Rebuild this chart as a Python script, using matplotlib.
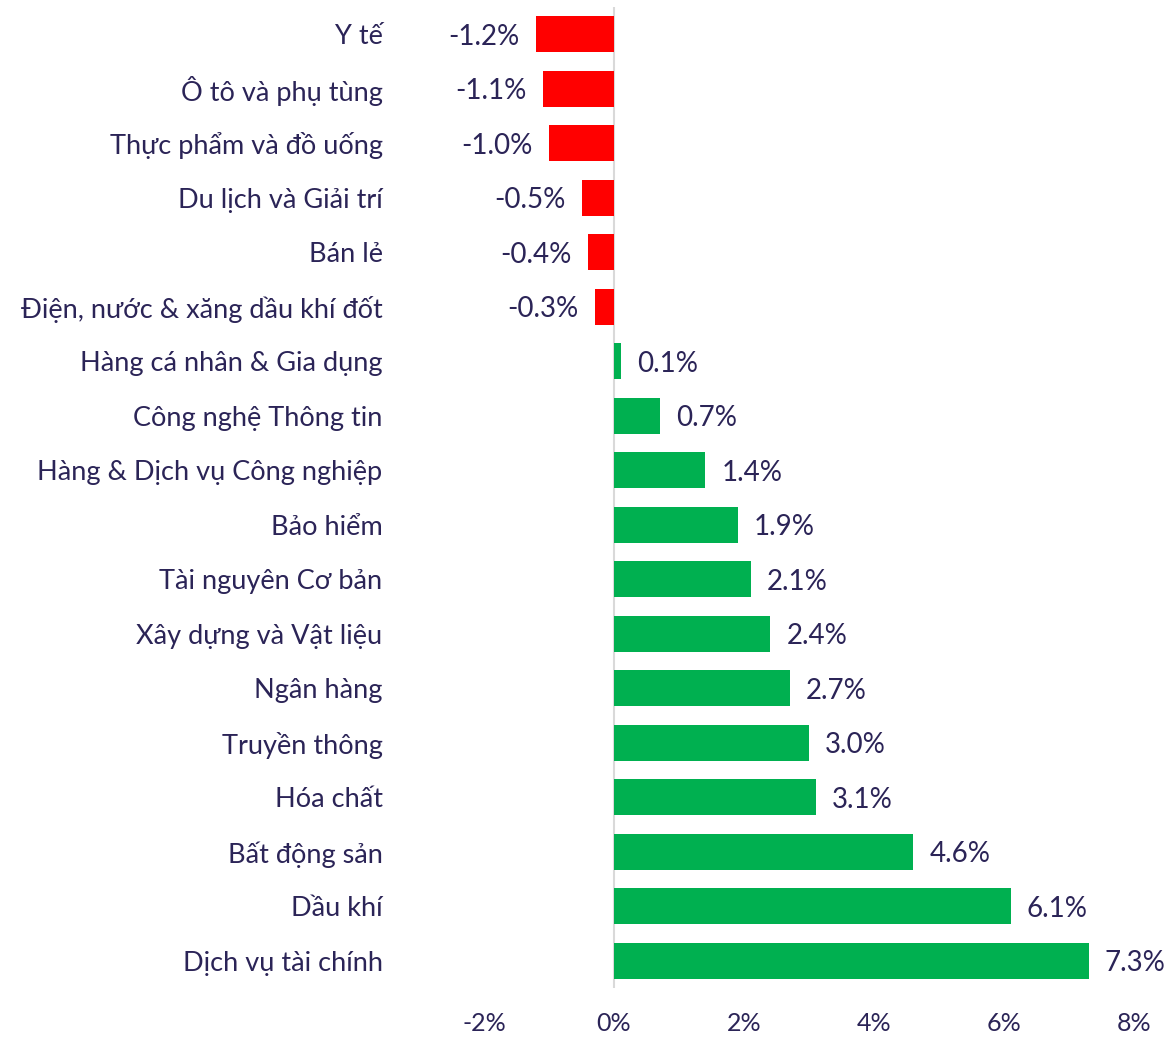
import numpy as np
import matplotlib
matplotlib.use("Agg")
from matplotlib import pyplot as plt

plt.rcParams['font.family'] = ['Lato', 'DejaVu Sans']

# sectors, top to bottom
sectors = ['Y tế', 'Ô tô và phụ tùng', 'Thực phẩm và đồ uống', 'Du lịch và Giải trí',
           'Bán lẻ', 'Điện, nước & xăng dầu khí đốt', 'Hàng cá nhân & Gia dụng',
           'Công nghệ Thông tin', 'Hàng & Dịch vụ Công nghiệp', 'Bảo hiểm',
           'Tài nguyên Cơ bản', 'Xây dựng và Vật liệu', 'Ngân hàng', 'Truyền thông',
           'Hóa chất', 'Bất động sản', 'Dầu khí', 'Dịch vụ tài chính']
changes = [-1.2, -1.1, -1.0, -0.5, -0.4, -0.3, 0.1, 0.7, 1.4, 1.9,
           2.1, 2.4, 2.7, 3.0, 3.1, 4.6, 6.1, 7.3]
xticks = [-2, 0, 2, 4, 6, 8]

text_color = '#2b2457'
red = '#ff0000'
green = '#00b050'

fig = plt.figure(figsize=(11.66, 10.37), dpi=100)
ax = fig.add_axes([484 / 1166, 49 / 1037, 650 / 1166, 981 / 1037])

y = np.arange(len(sectors))
colors = [red if v < 0 else green for v in changes]
ax.barh(y, changes, height=0.66, color=colors)

for yi, v in zip(y, changes):
    if v < 0:
        ax.text(v - 0.25, yi, f'{v:.1f}%', ha='right', va='center_baseline',
                fontsize=20, color=text_color)
    else:
        ax.text(v + 0.25, yi, f'{v:.1f}%', ha='left', va='center_baseline',
                fontsize=20, color=text_color)

ax.set_xlim(-2, 8)
ax.set_ylim(len(sectors) - 0.5, -0.5)
ax.axvline(0, color='#d9d9d9', lw=1.5, zorder=0)

ax.set_yticks(y)
ax.set_yticklabels(sectors, fontsize=19.5, color=text_color, va='center_baseline')
ax.set_xticks(xticks)
ax.set_xticklabels([f'{t}%' for t in xticks], fontsize=18, color=text_color)
ax.tick_params(axis='y', length=0, pad=73)
ax.tick_params(axis='x', length=0, pad=17)

for s in ax.spines.values():
    s.set_visible(False)

fig.savefig('out.png', dpi=100)
